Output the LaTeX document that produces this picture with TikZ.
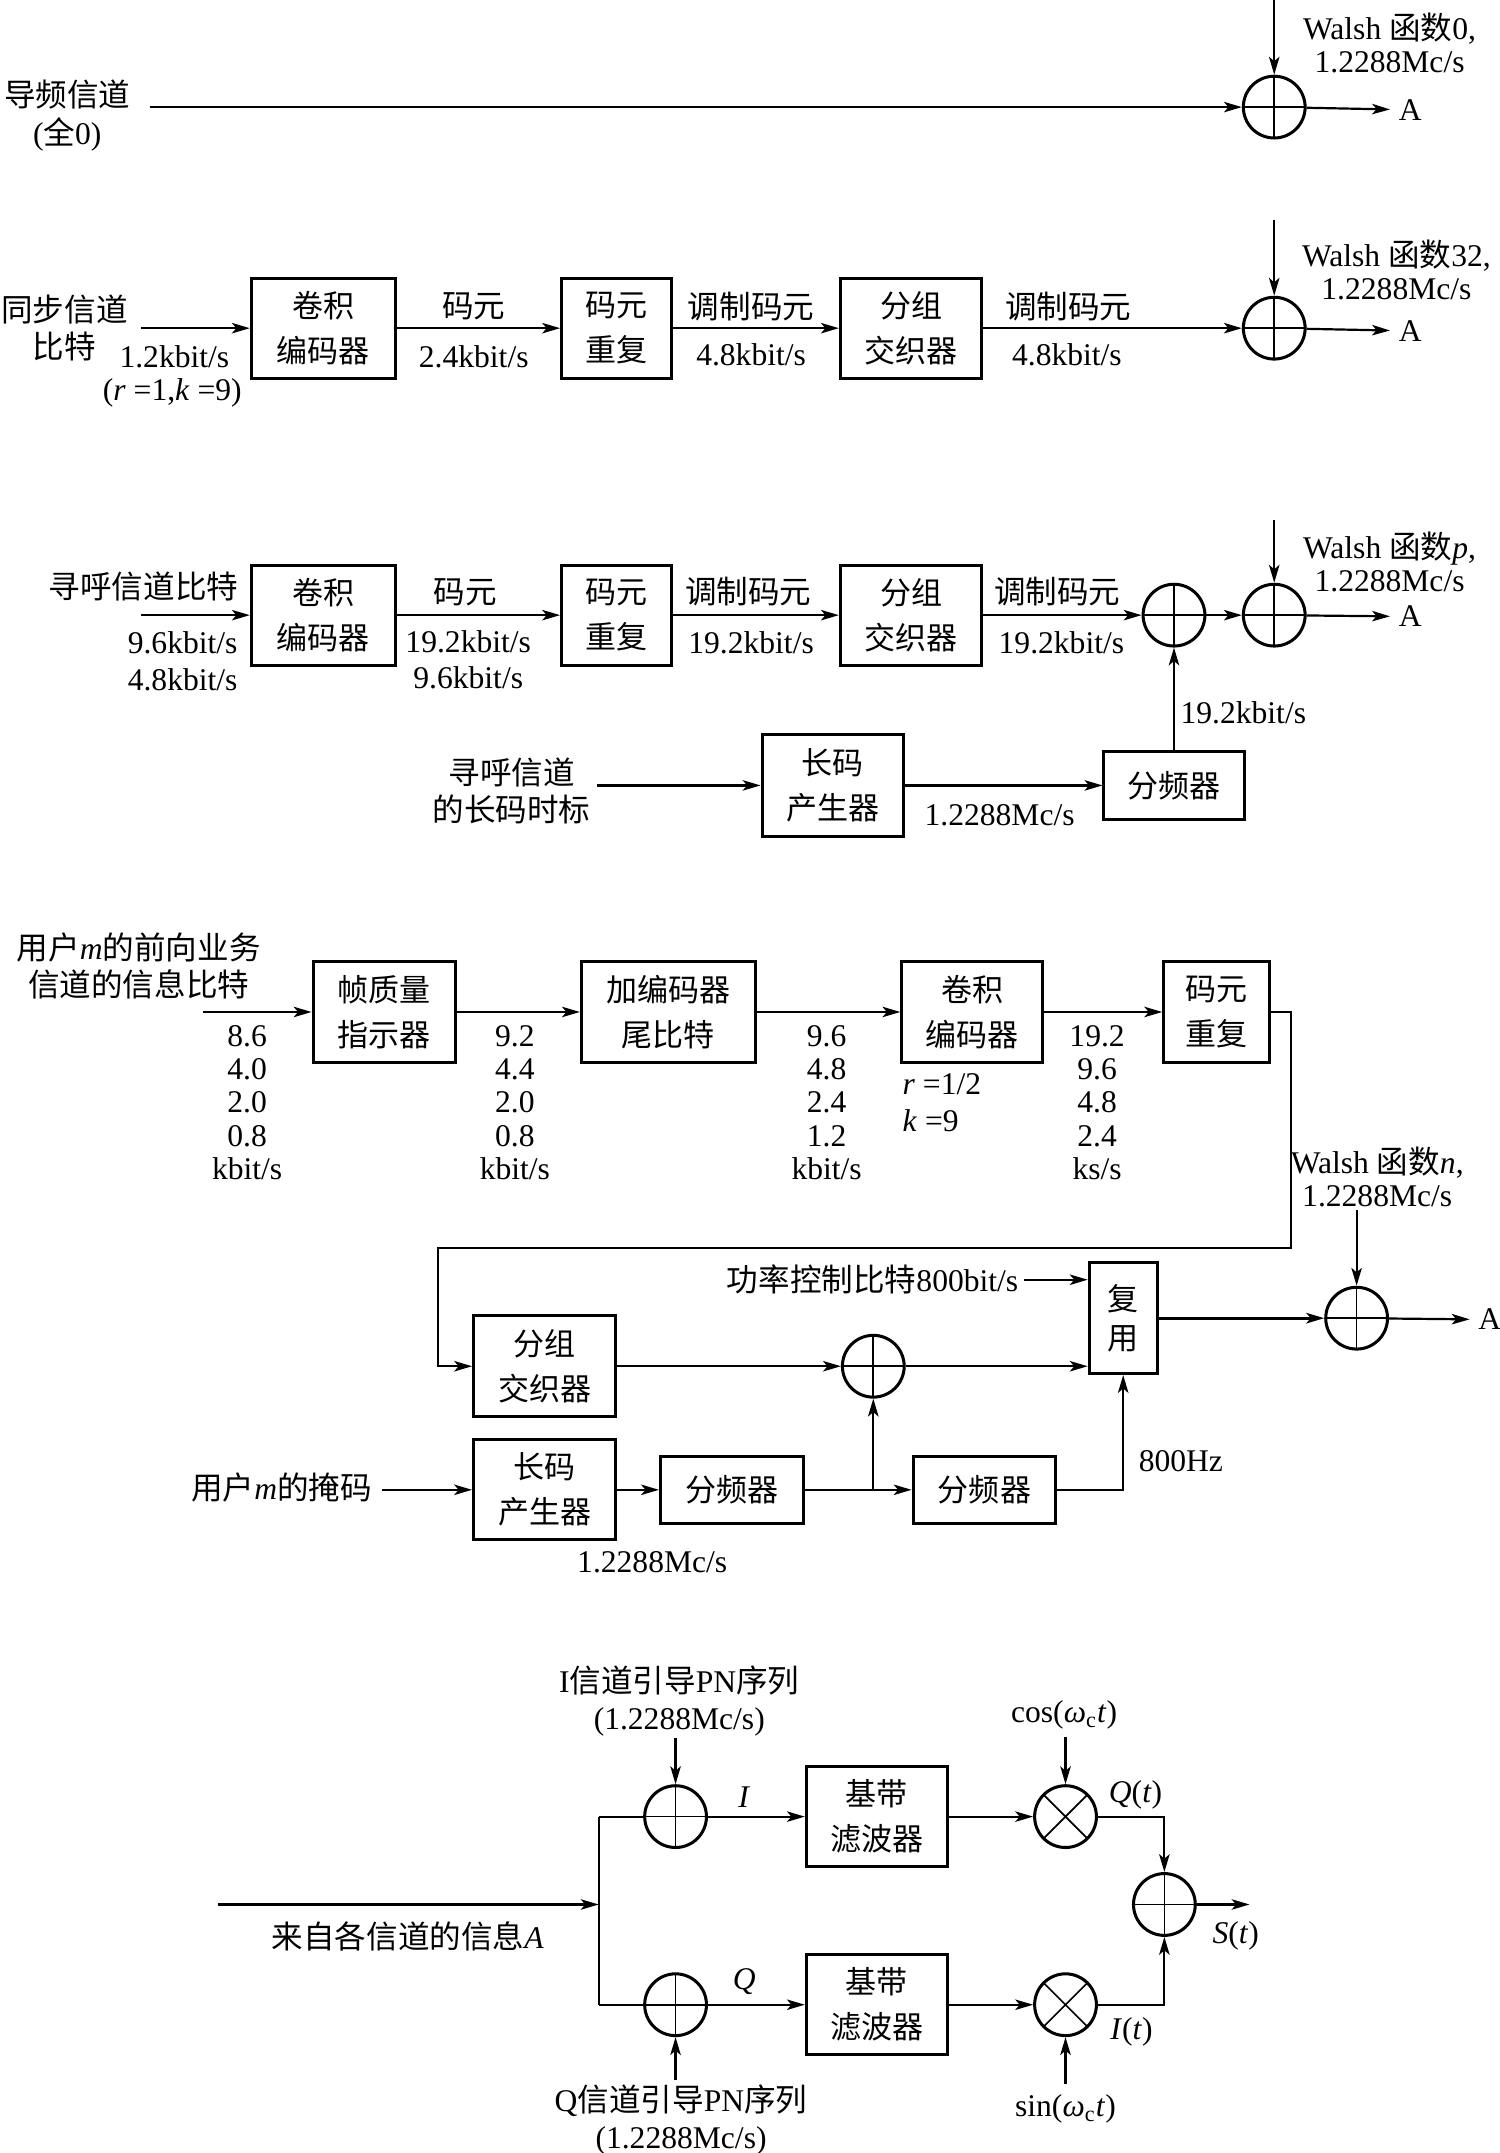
\documentclass[tikz,border=0pt]{standalone}
\usepackage{fontspec}
\setmainfont{Liberation Serif}
\newfontfamily\cjk{Noto Sans CJK SC}
\usetikzlibrary{arrows.meta}
\newcommand{\zh}[1]{{\cjk #1}}
\begin{document}
\begin{tikzpicture}[x=0.5pt,y=-0.5pt,
  every node/.style={font=\fontsize{11.5}{13.3}\selectfont, inner sep=0pt},
  blk/.style={draw, line width=1.1pt, align=center, font=\fontsize{11.3}{16.4}\selectfont\cjk},
  lbl/.style={align=center},
  ln/.style={line width=0.8pt},
  arr/.style={line width=0.8pt, -{Stealth[length=6.5pt,width=3.8pt,inset=1.6pt]}},
  adder/.style={draw, circle, line width=1.1pt, minimum size=22.5pt,
    path picture={\draw[line width=0.6pt] (path picture bounding box.north) -- (path picture bounding box.south) (path picture bounding box.west) -- (path picture bounding box.east);}},
  mult/.style={draw, circle, line width=1.1pt, minimum size=22.5pt,
    path picture={\draw[line width=0.6pt] (path picture bounding box.center) +(135:11.25pt) -- +(-45:11.25pt) (path picture bounding box.center) +(45:11.25pt) -- +(-135:11.25pt);}},
  sp12/.style={font=\fontsize{11.5}{12.1}\selectfont}
]
\useasboundingbox (0,0) rectangle (1092,1568);

% ---------------- Section 1: pilot ----------------
\node[lbl, font=\fontsize{11.5}{14}\selectfont] (t1) at (49,84) {\zh{导频信道}\\(\zh{全}0)};
\coordinate (s1) at (109,78);
\node[adder] (c1) at (928,78) {};
\coordinate (w1) at (928,0);
\node (A1) at (1027,80) {A};
\node[lbl, sp12] (wl1) at (1012,31) {Walsh \zh{函数}0,\\1.2288Mc/s};
\draw[arr] (s1) -- (c1);
\draw[arr] (w1) -- (c1);
\draw[arr, shorten >=3pt] (c1) -- (A1);

% ---------------- Section 2: sync ----------------
\node[lbl] (t2) at (47,239) {\zh{同步信道}\\\zh{比特}};
\coordinate (s2) at (103,239);
\node[blk, minimum width=52.5pt, minimum height=36.5pt] (b21) at (235.5,239) {卷积\\编码器};
\node[blk, minimum width=40pt, minimum height=36.5pt] (b22) at (449,239) {码元\\重复};
\node[blk, minimum width=51.5pt, minimum height=36.5pt] (b23) at (663.5,239) {分组\\交织器};
\node[adder] (c2) at (928,239) {};
\coordinate (w2) at (928,160);
\node (A2) at (1027,241) {A};
\node (l21) at (127,260) {1.2kbit/s};
\node (l22) at (125.5,286) {(\textit{r} =1,\textit{k} =9)};
\node (l23) at (345,223) {\zh{码元}};
\node (l24) at (345,260) {2.4kbit/s};
\node (l25) at (547,223) {\zh{调制码元}};
\node (l26) at (547,258.5) {4.8kbit/s};
\node (l27) at (778,223) {\zh{调制码元}};
\node (l28) at (777,258.5) {4.8kbit/s};
\node[lbl, sp12] (wl2) at (1017,196.5) {Walsh \zh{函数}32,\\1.2288Mc/s};
\draw[arr] (s2) -- (b21);
\draw[arr] (b21) -- (b22);
\draw[arr] (b22) -- (b23);
\draw[arr] (b23) -- (c2);
\draw[arr] (w2) -- (c2);
\draw[arr, shorten >=3pt] (c2) -- (A2);

% ---------------- Section 3: paging ----------------
\node (t3) at (104.5,427) {\zh{寻呼信道比特}};
\coordinate (s3) at (103,448);
\node[blk, minimum width=52.5pt, minimum height=36.5pt] (b31) at (235.5,448) {卷积\\编码器};
\node[blk, minimum width=40pt, minimum height=36.5pt] (b32) at (449,448) {码元\\重复};
\node[blk, minimum width=51.5pt, minimum height=36.5pt] (b33) at (663.5,448) {分组\\交织器};
\node[adder] (c31) at (855,448) {};
\node[adder] (c32) at (928,448) {};
\coordinate (w3) at (928,379);
\node (A3) at (1027,449) {A};
\node[lbl] (l31) at (133,481.7) {9.6kbit/s\\4.8kbit/s};
\node (l32) at (339,431.5) {\zh{码元}};
\node[lbl] (l33) at (341,480.4) {19.2kbit/s\\9.6kbit/s};
\node (l34) at (545,430.7) {\zh{调制码元}};
\node (l35) at (547,468.4) {19.2kbit/s};
\node (l36) at (770,430.7) {\zh{调制码元}};
\node (l37) at (773,468.4) {19.2kbit/s};
\node[lbl, sp12] (wl3) at (1012,409.5) {Walsh \zh{函数}\textit{p},\\1.2288Mc/s};
\node (l38) at (905.5,519.3) {19.2kbit/s};
\node[lbl] (t3b) at (372.6,576) {\zh{寻呼信道}\\\zh{的长码时标}};
\coordinate (s3b) at (435,572);
\node[blk, minimum width=51.5pt, minimum height=37pt] (b34) at (606.5,572) {长码\\产生器};
\node[blk, minimum width=51pt, minimum height=25pt] (b35) at (855,572) {分频器};
\node (l39) at (728,593.4) {1.2288Mc/s};
\draw[arr] (s3) -- (b31);
\draw[arr] (b31) -- (b32);
\draw[arr] (b32) -- (b33);
\draw[arr] (b33) -- (c31);
\draw[arr] (c31) -- (c32);
\draw[arr] (w3) -- (c32);
\draw[arr, shorten >=3pt] (c32) -- (A3);
\draw[arr] (s3b) -- (b34);
\draw[arr] (b34) -- (b35);
\draw[arr] (b35) -- (c31);

% ---------------- Section 4: traffic ----------------
\node[lbl, font=\fontsize{11.5}{13.5}\selectfont] (t4) at (101,703.5) {\zh{用户}\textit{m}\zh{的前向业务}\\\zh{信道的信息比特}};
\coordinate (s4) at (148,737);
\node[blk, minimum width=52pt, minimum height=36.5pt] (bf1) at (280,737) {帧质量\\指示器};
\node[blk, minimum width=63.3pt, minimum height=36.5pt] (bf2) at (486.7,737) {加编码器\\尾比特};
\node[blk, minimum width=51.2pt, minimum height=36.5pt] (bf3) at (708,737) {卷积\\编码器};
\node[blk, minimum width=38.5pt, minimum height=36.5pt] (bf4) at (886,737) {码元\\重复};
\node[lbl, sp12] (n1) at (180,803) {8.6\\4.0\\2.0\\0.8\\kbit/s};
\node[lbl, sp12] (n2) at (375,803) {9.2\\4.4\\2.0\\0.8\\kbit/s};
\node[lbl, sp12] (n3) at (602,803) {9.6\\4.8\\2.4\\1.2\\kbit/s};
\node[lbl, sp12] (n4) at (799,803) {19.2\\9.6\\4.8\\2.4\\ks/s};
\node[align=left, anchor=west] (rk) at (657,803) {\textit{r} =1/2\\\textit{k} =9};
\node[lbl, sp12] (wl4) at (1003,857.4) {Walsh \zh{函数}\textit{n},\\1.2288Mc/s};
\coordinate (l1) at (940,909);
\coordinate (l2) at (319,909);
\node[blk, minimum width=51.8pt, minimum height=36.7pt] (bg1) at (396.7,995) {分组\\交织器};
\node[blk, minimum width=24.75pt, minimum height=40.3pt, font=\fontsize{11.3}{14}\selectfont\cjk] (mux) at (818,960) {复\\用};
\node[adder] (c5) at (636,995) {};
\node[adder] (c4) at (988,960) {};
\coordinate (w4) at (988,881);
\node (A4) at (1085,961) {A};
\node (pc) at (635.5,932) {\zh{功率控制比特}800bit/s};
\coordinate (pcs) at (746,932);
\node (t4b) at (205,1083) {\zh{用户}\textit{m}\zh{的掩码}};
\coordinate (s4b) at (278,1085);
\node[blk, minimum width=51.8pt, minimum height=36.5pt] (bg2) at (396.7,1085) {长码\\产生器};
\node[blk, minimum width=52pt, minimum height=24.5pt] (bd1) at (533,1085) {分频器};
\node[blk, minimum width=52pt, minimum height=24.5pt] (bd2) at (717,1085) {分频器};
\coordinate (br) at (636,1085);
\node (l41) at (860,1064) {800Hz};
\node (l42) at (475,1138) {1.2288Mc/s};
\draw[arr] (s4) -- (bf1);
\draw[arr] (bf1) -- (bf2);
\draw[arr] (bf2) -- (bf3);
\draw[arr] (bf3) -- (bf4);
\draw[arr] (bf4.east) -| (l1) -- (l2) |- (bg1.west);
\draw[arr] (pcs) -- (pcs -| mux.west);
\draw[arr] (bg1) -- (c5);
\draw[arr] (c5) -- (c5 -| mux.west);
\draw[arr, line width=1.1pt] (mux) -- (c4);
\draw[arr] (w4) -- (c4);
\draw[arr, shorten >=3pt] (c4) -- (A4);
\draw[arr] (s4b) -- (bg2);
\draw[arr] (bg2) -- (bd1);
\draw[arr] (bd1) -- (bd2);
\draw[arr] (br) -- (c5);
\draw[arr] (bd2.east) -| (mux.south);

% ---------------- Section 5: QPSK ----------------
\coordinate (in5) at (159,1387);
\coordinate (j5) at (436,1387);
\coordinate (jt) at (436,1323);
\coordinate (jb) at (436,1460);
\node (t5) at (297,1410) {\zh{来自各信道的信息}\textit{A}};
\node[adder] (ciI) at (492,1323) {};
\node[adder] (ciQ) at (492,1460) {};
\node[blk, minimum width=51.25pt, minimum height=36.3pt] (bbI) at (638.5,1323) {基带\\滤波器};
\node[blk, minimum width=51.25pt, minimum height=36.3pt] (bbQ) at (638.5,1460) {基带\\滤波器};
\node[mult] (muI) at (776,1323) {};
\node[mult] (muQ) at (776,1460) {};
\node[adder] (add) at (848,1387) {};
\node[lbl] (pnIt) at (494.7,1239) {I\zh{信道引导}PN\zh{序列}\\(1.2288Mc/s)};
\node[lbl] (pnQt) at (496,1544) {Q\zh{信道引导}PN\zh{序列}\\(1.2288Mc/s)};
\coordinate (pnI) at (492,1266);
\coordinate (pnQ) at (492,1515);
\node (cosl) at (775,1249) {cos(\textit{ω}\textsubscript{c}\textit{t})};
\node (sinl) at (776,1536) {sin(\textit{ω}\textsubscript{c}\textit{t})};
\coordinate (cs) at (776,1265);
\coordinate (sn) at (776,1518);
\node (lI) at (542,1309) {\textit{I}};
\node (lQ) at (542,1443) {\textit{Q}};
\node (lQt) at (827,1307) {\textit{Q}(\textit{t})};
\node (lIt) at (824,1480) {\textit{I}(\textit{t})};
\node (lS) at (900,1410) {\textit{S}(\textit{t})};
\coordinate (out) at (910,1387);
\draw[arr] (in5) -- (j5);
\draw[ln] (jt) -- (jb);
\draw[ln] (jt) -- (ciI);
\draw[ln] (jb) -- (ciQ);
\draw[arr] (ciI) -- (bbI);
\draw[arr] (ciQ) -- (bbQ);
\draw[arr] (pnI) -- (ciI);
\draw[arr] (pnQ) -- (ciQ);
\draw[arr] (bbI) -- (muI);
\draw[arr] (bbQ) -- (muQ);
\draw[arr] (cs) -- (muI);
\draw[arr] (sn) -- (muQ);
\draw[arr] (muI) -| (add);
\draw[arr] (muQ) -| (add);
\draw[arr] (add) -- (out);
\end{tikzpicture}
\end{document}
